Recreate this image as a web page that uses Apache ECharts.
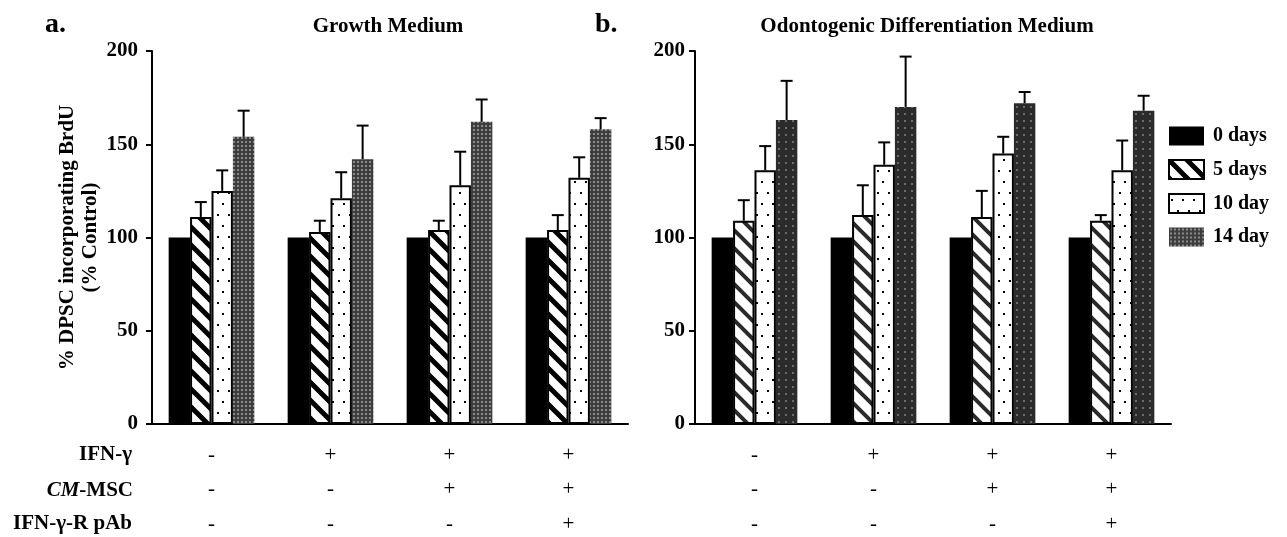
<!DOCTYPE html>
<html>
<head>
<meta charset="utf-8">
<script src="https://cdn.jsdelivr.net/npm/echarts@6/dist/echarts.min.js"></script>
<style>
    html, body { margin: 0; padding: 0; background: #fff; }
    #chart { width: 1287px; height: 537px; }
</style>
</head>
<body>
<div id="chart"></div>
<script>
// categories and the +/- table under each panel
const groups = ['g1', 'g2', 'g3', 'g4'];
const ifnRow = ['-', '+', '+', '+'];
const cmRow = ['-', '-', '+', '+'];
const pabRow = ['-', '-', '-', '+'];
const dayNames = ['0 days', '5 days', '10 day', '14 day'];

// a. Growth Medium (mean, and top of error bar)
const growth0 = [100, 100, 100, 100];
const growth5 = [111, 103, 104, 104];
const growth10 = [125, 121, 128, 132];
const growth14 = [154, 142, 162, 158];
const growth5Err = [119, 109, 109, 112];
const growth10Err = [136, 135, 146, 143];
const growth14Err = [168, 160, 174, 164];

// b. Odontogenic Differentiation Medium
const odonto0 = [100, 100, 100, 100];
const odonto5 = [109, 112, 111, 109];
const odonto10 = [136, 139, 145, 136];
const odonto14 = [163, 170, 172, 168];
const odonto5Err = [120, 128, 125, 112];
const odonto10Err = [149, 151, 154, 152];
const odonto14Err = [184, 197, 178, 176];

const FONT = 'Liberation Serif';
const GAP = 0.28;

// fill patterns
function hatchPattern(stroke, lw) {
    const s = 18;
    const c = document.createElement('canvas');
    c.width = s; c.height = s;
    const ctx = c.getContext('2d');
    ctx.fillStyle = '#fff';
    ctx.fillRect(0, 0, s, s);
    ctx.strokeStyle = stroke;
    ctx.lineWidth = lw;
    ctx.beginPath();
    ctx.moveTo(-s, -s); ctx.lineTo(2 * s, 2 * s);
    ctx.moveTo(-s, 0); ctx.lineTo(s, 2 * s);
    ctx.moveTo(0, -s); ctx.lineTo(2 * s, s);
    ctx.stroke();
    return c;
}
function dotPattern() {
    const c = document.createElement('canvas');
    c.width = 11; c.height = 22;
    const ctx = c.getContext('2d');
    ctx.fillStyle = '#fff';
    ctx.fillRect(0, 0, 11, 22);
    ctx.fillStyle = '#000';
    ctx.fillRect(2, 5, 2, 2);
    ctx.fillRect(8, 16, 2, 2);
    return c;
}
function grayPattern(bg, dot, step) {
    const c = document.createElement('canvas');
    c.width = step; c.height = step;
    const ctx = c.getContext('2d');
    ctx.fillStyle = bg;
    ctx.fillRect(0, 0, step, step);
    ctx.fillStyle = dot;
    ctx.fillRect(1, 1, 2, 2);
    return c;
}

const hatchA = { image: hatchPattern('#000', 5), repeat: 'repeat' };
const hatchB = { image: hatchPattern('#2a2a2a', 4), repeat: 'repeat' };
const dots = { image: dotPattern(), repeat: 'repeat' };
const grayA = { image: grayPattern('#3d3d3d', '#8a8a8a', 4), repeat: 'repeat' };
const grayB = { image: grayPattern('#2b2b2b', '#6e6e6e', 7), repeat: 'repeat' };

function barSeries(name, data, idx, fill, border) {
    return {
        type: 'bar',
        name: name,
        xAxisIndex: idx,
        yAxisIndex: idx,
        data: data,
        barGap: '0%',
        barCategoryGap: (GAP * 100) + '%',
        itemStyle: {
            color: fill,
            borderColor: '#000',
            borderWidth: border
        }
    };
}

function errData(means, errs) {
    let out = [];
    means.forEach((m, k) => {
        m.forEach((v, i) => out.push([i, k + 1, v, errs[k][i]]));
    });
    return out;
}

function renderErr(params, api) {
    const cat = api.value(0), k = api.value(1);
    const band = api.size([1, 0])[0];
    const groupW = band * (1 - GAP);
    const barW = groupW / 4;
    const base = api.coord([cat, api.value(2)]);
    const x = base[0] - groupW / 2 + barW * (k + 0.5);
    const yTop = api.coord([cat, api.value(3)])[1];
    const st = { stroke: '#000', lineWidth: 2 };
    return {
        type: 'group',
        children: [
            { type: 'line', shape: { x1: x, y1: base[1], x2: x, y2: yTop }, style: st },
            { type: 'line', shape: { x1: x - 6, y1: yTop, x2: x + 6, y2: yTop }, style: st }
        ]
    };
}

function xAxisFor(idx) {
    return {
        type: 'category',
        gridIndex: idx,
        data: groups,
        axisLine: { lineStyle: { color: '#000', width: 2 } },
        axisTick: { show: false },
        axisLabel: {
            margin: 14,
            fontFamily: FONT,
            fontSize: 21,
            color: '#000',
            lineHeight: 34.5,
            formatter: (v, i) => ifnRow[i] + '\n' + cmRow[i] + '\n' + pabRow[i]
        }
    };
}
function yAxisFor(idx, margin) {
    return {
        type: 'value',
        gridIndex: idx,
        min: 0,
        max: 200,
        interval: 50,
        axisLine: { show: true, lineStyle: { color: '#000', width: 2 } },
        axisTick: { show: true, length: 6, lineStyle: { color: '#000', width: 2 } },
        splitLine: { show: false },
        axisLabel: {
            margin: margin,
            fontFamily: FONT,
            fontWeight: 'bold',
            fontSize: 21,
            color: '#000'
        }
    };
}

let yA = yAxisFor(0, 14);
yA.name = '% DPSC incorporating BrdU\n(% Control)';
yA.nameLocation = 'middle';
yA.nameRotate = 90;
yA.nameGap = 50;
yA.nameTextStyle = { fontFamily: FONT, fontWeight: 'bold', fontSize: 21, color: '#000', lineHeight: 23 };

const rowText = { fontFamily: FONT, fontWeight: 'bold', fontSize: 21, fill: '#000', align: 'right', verticalAlign: 'middle' };

let option = {
    animation: false,
    backgroundColor: '#fff',
    grid: [
        { left: 152, width: 476, top: 51, bottom: 113, outerBoundsMode: 'none', containLabel: false },
        { left: 695, width: 476, top: 51, bottom: 113, outerBoundsMode: 'none', containLabel: false }
    ],
    xAxis: [xAxisFor(0), xAxisFor(1)],
    yAxis: [yA, yAxisFor(1, 10)],
    legend: {
        data: dayNames,
        orient: 'vertical',
        left: 1163,
        top: 121,
        icon: 'rect',
        itemWidth: 35,
        itemHeight: 19,
        itemGap: 13,
        textStyle: { fontFamily: FONT, fontWeight: 'bold', fontSize: 20, color: '#000', padding: [0, 0, 0, 4] }
    },
    graphic: [
        { type: 'text', x: 45, y: 25, style: { text: 'a.', font: 'bold 28px ' + FONT, fill: '#000', verticalAlign: 'middle' } },
        { type: 'text', x: 595, y: 25, style: { text: 'b.', font: 'bold 28px ' + FONT, fill: '#000', verticalAlign: 'middle' } },
        { type: 'text', x: 388, y: 27, style: { text: 'Growth Medium', font: 'bold 21px ' + FONT, fill: '#000', align: 'center', verticalAlign: 'middle' } },
        { type: 'text', x: 927, y: 27, style: { text: 'Odontogenic Differentiation Medium', font: 'bold 21px ' + FONT, fill: '#000', align: 'center', verticalAlign: 'middle' } },
        { type: 'text', x: 132, y: 455, style: Object.assign({ text: 'IFN-γ' }, rowText) },
        { type: 'text', x: 133, y: 491, style: Object.assign({
            text: '{i|CM}-MSC',
            rich: { i: { fontFamily: FONT, fontWeight: 'bold', fontStyle: 'italic', fontSize: 21, fill: '#000' } }
        }, rowText) },
        { type: 'text', x: 132, y: 524, style: Object.assign({ text: 'IFN-γ-R pAb' }, rowText) }
    ],
    series: [
        barSeries(dayNames[0], growth0, 0, '#000', 0),
        barSeries(dayNames[1], growth5, 0, hatchA, 2),
        barSeries(dayNames[2], growth10, 0, dots, 2),
        barSeries(dayNames[3], growth14, 0, grayA, 0),
        barSeries(dayNames[0], odonto0, 1, '#000', 0),
        barSeries(dayNames[1], odonto5, 1, hatchB, 2),
        barSeries(dayNames[2], odonto10, 1, dots, 2),
        barSeries(dayNames[3], odonto14, 1, grayB, 0),
        {
            type: 'custom',
            xAxisIndex: 0,
            yAxisIndex: 0,
            renderItem: renderErr,
            encode: { x: 0, y: 3 },
            z: 5,
            data: errData([growth5, growth10, growth14], [growth5Err, growth10Err, growth14Err])
        },
        {
            type: 'custom',
            xAxisIndex: 1,
            yAxisIndex: 1,
            renderItem: renderErr,
            encode: { x: 0, y: 3 },
            z: 5,
            data: errData([odonto5, odonto10, odonto14], [odonto5Err, odonto10Err, odonto14Err])
        }
    ]
};

let chart = echarts.init(document.getElementById('chart'));
chart.setOption(option);
window.addEventListener('resize', function () {
    chart.resize();
});
</script>
</body>
</html>
